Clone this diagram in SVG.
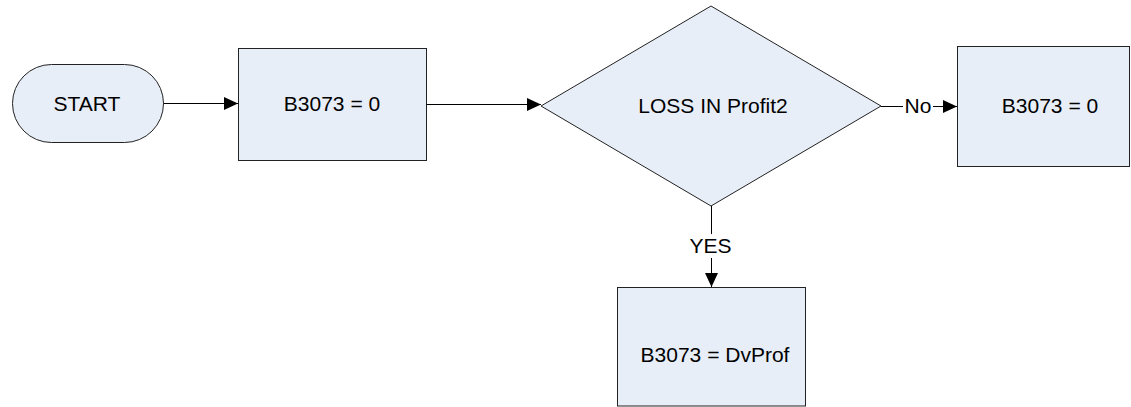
<svg xmlns="http://www.w3.org/2000/svg" width="1131" height="407" viewBox="0 0 1131 407">
<style>
.shape{fill:#E8EEF7;stroke:#222;stroke-width:1}
.lbl{font-family:"Liberation Sans",Arial,sans-serif;font-size:21px;fill:#000;text-anchor:middle}
.conn{stroke:#000;stroke-width:1;fill:none}
</style>
<defs>
<marker id="arr" markerWidth="14" markerHeight="14" refX="14" refY="7" orient="auto" markerUnits="userSpaceOnUse">
<path d="M0,0.5 L14,7 L0,13.5 Z" fill="#000"/>
</marker>
</defs>
<rect width="1131" height="407" fill="#fff"/>
<g id="start">
<rect class="shape" x="12.5" y="64.5" width="151" height="78" rx="39" ry="39"/>
<text class="lbl" x="87" y="111">START</text>
</g>
<g id="box1">
<rect class="shape" x="238.5" y="48.5" width="188" height="112"/>
<text class="lbl" x="332" y="111">B3073 = 0</text>
</g>
<g id="decision">
<polygon class="shape" points="711,6 881,106 711,206 541,106"/>
<text class="lbl" x="713" y="113">LOSS IN Profit2</text>
</g>
<g id="box3">
<rect class="shape" x="957.5" y="46.5" width="172" height="120"/>
<text class="lbl" x="1050" y="113">B3073 = 0</text>
</g>
<g id="box4">
<rect class="shape" x="617.5" y="287.5" width="188" height="118.5"/>
<text class="lbl" x="715" y="362">B3073 = DvProf</text>
</g>
<g id="connectors">
<line class="conn" x1="163.5" y1="103.5" x2="238" y2="103.5" marker-end="url(#arr)"/>
<line class="conn" x1="426.5" y1="104.5" x2="541" y2="104.5" marker-end="url(#arr)"/>
<line class="conn" x1="881" y1="106.5" x2="957" y2="106.5" marker-end="url(#arr)"/>
<rect x="903" y="95" width="30" height="22" fill="#fff"/>
<text class="lbl" x="918" y="113">No</text>
<line class="conn" x1="711.5" y1="206" x2="711.5" y2="287" marker-end="url(#arr)"/>
<rect x="688" y="234" width="46" height="24" fill="#fff"/>
<text class="lbl" x="710.5" y="253">YES</text>
</g>
</svg>
